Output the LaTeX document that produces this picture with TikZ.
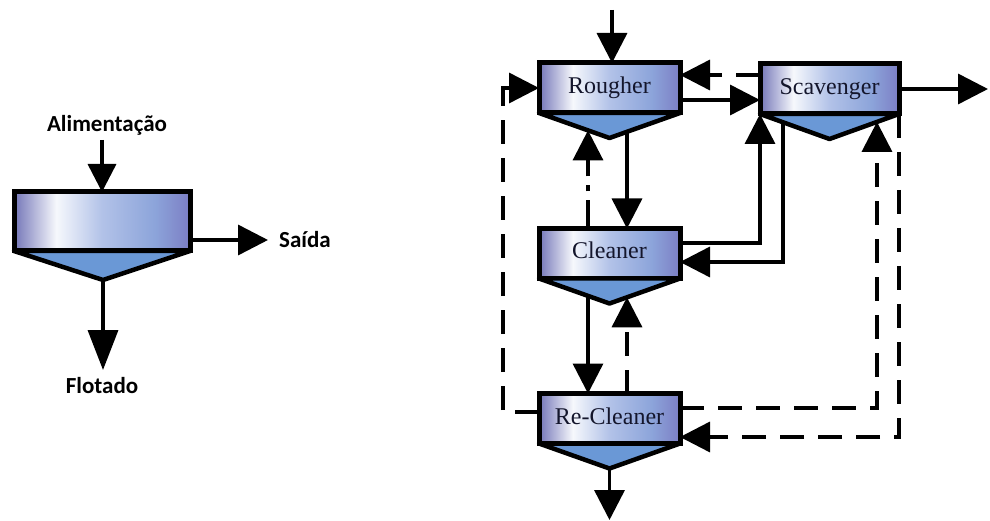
\documentclass[tikz,border=0pt]{standalone}
\usepackage{fontspec}
\setmainfont{Liberation Serif}
\newfontfamily\labelfont{Carlito}
\usetikzlibrary{arrows.meta,calc}

% cell colours
\definecolor{cellA}{RGB}{116,118,184}
\definecolor{cellW}{RGB}{246,248,252}
\definecolor{cellB}{RGB}{178,194,232}
\definecolor{cellC}{RGB}{140,164,218}
\definecolor{cellD}{RGB}{124,126,196}
\definecolor{hopperblue}{RGB}{106,152,214}
\definecolor{inktext}{RGB}{20,22,44}

\pgfdeclarehorizontalshading{cellshade}{100bp}{color(0bp)=(cellA); color(25bp)=(cellA); color(37bp)=(cellW); color(50bp)=(cellB); color(65bp)=(cellC); color(75bp)=(cellD); color(100bp)=(cellD)}

\tikzset{
  cell/.style={draw=black, line width=5pt, shading=cellshade, outer sep=0pt,
    minimum width=141pt, minimum height=50pt, inner sep=0pt,
    text height=16pt, text depth=5pt, text=inktext,
    font=\fontsize{24}{28}\selectfont},
  hopper/.style={draw=black, fill=hopperblue, line width=4.5pt, line join=round},
  flow/.style={line width=3.5pt, -{Triangle[length=30pt,width=30pt]}},
  back/.style={flow, dash pattern=on 24pt off 14pt},
  dashdot/.style={flow, dash pattern=on 28pt off 9pt on 6pt off 9pt},
  lab/.style={inner sep=0pt, font=\labelfont\bfseries\fontsize{23}{27}\selectfont}
}

\begin{document}
\begin{tikzpicture}[x=1pt,y=-1pt]
\useasboundingbox (0,0) rectangle (990,521);

% ---------- single flotation cell ----------
\node[cell, minimum width=176pt, minimum height=59pt] (U) at (102,221.5) {};
\coordinate (Ua) at ($(U.south)+(1,29)$);
\draw[hopper] (U.south west) -- (Ua) -- (U.south east) -- cycle;

\node[lab, anchor=base] (alim) at (107,132) {Alimentação};
\node[lab, anchor=base west] (said) at (279,248) {Saída};
\node[lab, anchor=base] (flot) at (102,393) {Flotado};

\coordinate (Uin) at (102,140);
\coordinate (Uout) at (268,240);
\coordinate (Udown) at (103,370);
\draw[line width=3.5pt, -{Triangle[length=28pt,width=28pt]}] (Uin) -- (U.north);
\draw[flow] ($(U.east)+(0,18.5)$) -- (Uout);
\draw[line width=3.5pt, -{Triangle[length=40pt,width=30pt]}] (Ua) -- (Udown);

% ---------- circuit ----------
\node[cell] (R) at (609.5,88) {Rougher};
\node[cell, minimum width=139pt] (S) at (829.5,89) {Scavenger};
\node[cell] (C) at (609.5,253.5) {Cleaner};
\node[cell] (RC) at (609.5,418.5) {Re-Cleaner};

\coordinate (Ra) at ($(R.south)+(0,25)$);
\coordinate (Sa) at ($(S.south)+(0,25)$);
\coordinate (Ca) at ($(C.south)+(0,25)$);
\coordinate (RCa) at ($(RC.south)+(0,25)$);

\draw[hopper] (R.south west) -- (Ra) -- (R.south east) -- cycle;
\draw[hopper] (S.south west) -- (Sa) -- (S.south east) -- cycle;
\draw[hopper] (C.south west) -- (Ca) -- (C.south east) -- cycle;
\draw[hopper] (RC.south west) -- (RCa) -- (RC.south east) -- cycle;

% points on the hoppers where streams leave or enter
\coordinate (r1) at ($(R.south east)!0.752!(Ra)$);
\coordinate (r2) at ($(R.south west)!0.695!(Ra)$);
\coordinate (s1) at ($(S.south west)!0.331!(Sa)$);
\coordinate (s2) at ($(S.south east)!0.317!(Sa)$);
\coordinate (c1) at ($(C.south west)!0.695!(Ca)$);
\coordinate (c2) at ($(C.south east)!0.752!(Ca)$);

\coordinate (feed) at (612,10);
\coordinate (prod) at (988,89);
\coordinate (loopL) at (503,412);
\coordinate (tail) at (609.5,520);

% feed and products
\draw[flow] (feed) -- (feed |- R.north);
\draw[flow] (S.east) -- (prod);
\draw[flow] (RCa) -- (tail);

% rougher <-> scavenger
\draw[flow] ($(R.east)+(0,12)$) -- ($(S.west)+(0,11)$);
\draw[back] ($(S.west)+(0,-14)$) -- ($(R.east)+(0,-13)$);

% rougher <-> cleaner
\draw[flow] (r1) -- (r1 |- C.north);
\draw[dashdot] (r2 |- C.north) -- (r2);

% cleaner <-> scavenger
\draw[flow] ($(C.east)+(0,-10.5)$) -| (S.south west);
\draw[flow] (s1) |- ($(C.east)+(0,8.5)$);

% cleaner <-> re-cleaner
\draw[flow] (c1) -- (c1 |- RC.north);
\draw[back] (c2 |- RC.north) -- (c2);

% re-cleaner recycles
\draw[back] ($(RC.west)+(0,-6.5)$) -- (loopL) |- (R.west);
\draw[back] ($(RC.east)+(0,-10.5)$) -| (s2);
\draw[back] (S.south east) |- ($(RC.east)+(0,18.5)$);
\end{tikzpicture}
\end{document}
